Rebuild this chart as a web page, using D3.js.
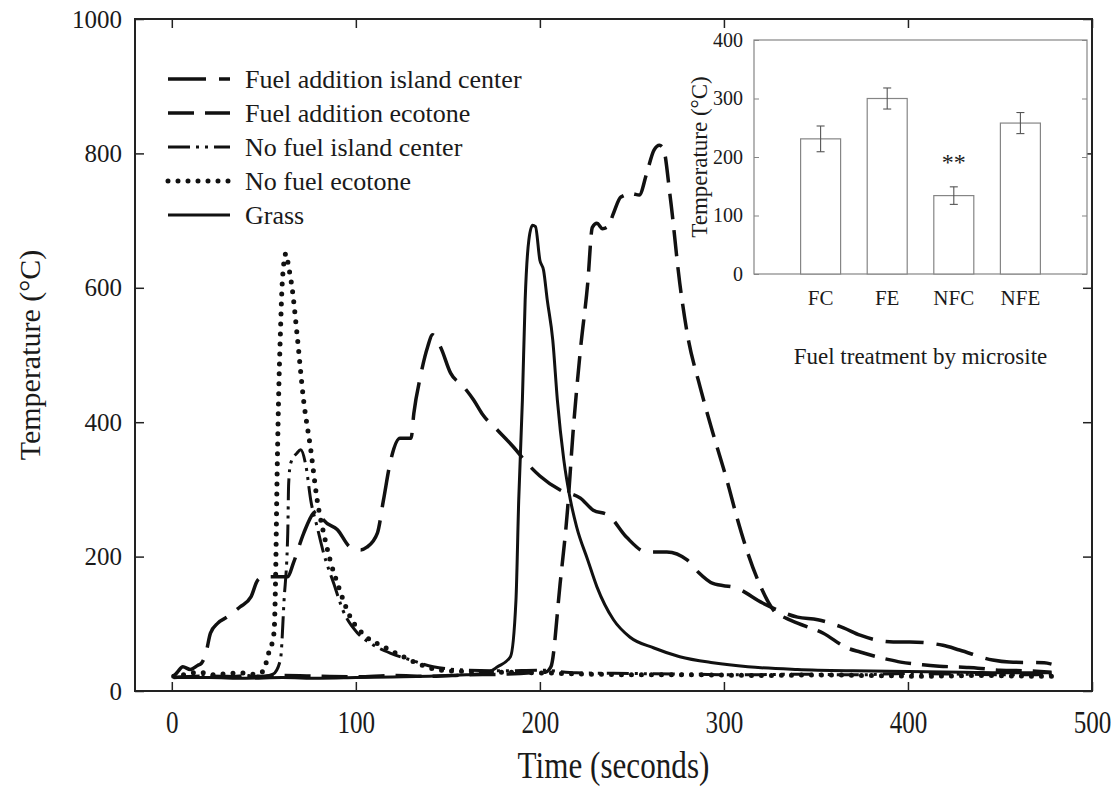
<!DOCTYPE html>
<html>
<head>
<meta charset="utf-8">
<script src="https://cdn.jsdelivr.net/npm/d3@7"></script>
<style>
  body { margin: 0; background: #fff; }
  text { font-family: "Liberation Serif", "Times New Roman", serif; fill: #1a1a1a; }
</style>
</head>
<body>
<div id="wrapper"></div>
<script>
// main chart: temperature vs time per series
const islandTime = [1,3,6,10,14,16,18.5,21,25,30,37,43,46.7,50,55.5,63,66,71.7,77,80,82.6,90,97,102.6,106,111.7,115,119,124,130,131.5,135,139,141.7,146,151.5,158.5,164,169,177,186,193,200,211,222,229,237,247,258,269,280,286,294,307,321,340,351,365,374,392,401,419,428,446,455,474,478];
const islandTemp = [22,28,36,32,38,41,56,86,101,110,125,140,165,170,170,170,190,235,265,269,254,240,214,210,214,235,284,344,376,376,413,467,512,530,512,473,453,433,411,388,362,339,320,299,287,269,262,229,207,207,195,177,160,153,131,110,106,94,83,73,73,68,61,46,43,42,40];

const ecotoneTime = [1,20,40,60,80,100,120,140,160,180,195,203,206,211,215,218,222,226,228.5,231,234,237,240,244,250,254,258,262,265,267,271,276,280,287,294,302,307,313,320,327,334,340,354,367,374,389,396,408,417,432,438,450,465,478];
const ecotoneTemp = [20,22,21,23,22,21,23,22,24,25,27,28,36,160,269,384,507,607,690,696,688,691,711,735,740,738,770,805,812,808,731,607,533,453,384,310,259,205,155,120,108,101,86,64,58,47,43,39,37,35,34,31,30,28];

const noFuelIslandTime = [1,10,20,30,40,50,55,59,61,63,63.5,64.6,68,70,73,75.5,79,82.5,88,93,101,108,119,130,142,161,180,200,220,250,280,310,340,370,400,430,460,478];
const noFuelIslandTemp = [20,21,22,21,23,22,25,46,135,235,309,339,354,359,333,284,244,205,160,120,86,71,56,46,36,31,30,31,27,26,25,24,25,24,26,25,24,25];

const noFuelEcotoneTime = [1,8,15,22,30,38,45,50,52,55.5,56.5,57,58,59,60,62,63.5,65.5,68,71.6,75.5,79,82.5,86,90,97,106,115,125,133.5,146,160,180,200,230,260,290,320,350,380,410,440,470,478];
const noFuelEcotoneTemp = [22,25,28,24,26,27,25,30,51,86,185,284,433,532,607,651,631,597,532,433,359,284,235,195,160,110,80,66,52,41,31,29,28,27,25,24,24,23,24,23,22,23,22,22];

const grassTime = [1,20,40,60,80,100,120,140,160,170,177,184,187,188.5,190.5,192,194,196,197.6,200,202,204,207,209.5,213,216.6,220,226,231,240,249,262,276,294,313,340,370,400,430,460,478];
const grassTemp = [20,20,19,20,19,20,21,22,24,26,36,51,135,284,433,582,671,693,691,641,626,582,522,433,344,284,244,195,155,106,80,64,51,42,36,32,30,29,28,27,27];

const seriesNames = ["Fuel addition island center", "Fuel addition ecotone", "No fuel island center", "No fuel ecotone", "Grass"];
const xTicks = [0, 100, 200, 300, 400, 500];
const yTicks = [0, 200, 400, 600, 800, 1000];

// inset bar chart
const insetCategories = ["FC", "FE", "NFC", "NFE"];
const insetMeans = [231, 300, 134, 258];
const insetErrors = [22, 18, 15, 18];
const insetTicks = [0, 100, 200, 300, 400];
const insetStars = ["", "", "**", ""];

function drawChart() {
	const dimensions = {
		width: 1116,
		height: 795,
		margin: { top: 19, right: 24, bottom: 104, left: 135 }
	};
	dimensions.boundedWidth = dimensions.width - dimensions.margin.left - dimensions.margin.right;
	dimensions.boundedHeight = dimensions.height - dimensions.margin.top - dimensions.margin.bottom;

	const svg = d3.select("#wrapper").append("svg")
		.attr("width", dimensions.width)
		.attr("height", dimensions.height);

	svg.append("rect").attr("width", dimensions.width).attr("height", dimensions.height).attr("fill", "#fff");

	const bounds = svg.append("g")
		.attr("transform", `translate(${dimensions.margin.left},${dimensions.margin.top})`);

	const xScale = d3.scaleLinear().domain([-20, 500]).range([0, dimensions.boundedWidth]);
	const yScale = d3.scaleLinear().domain([0, 1000]).range([dimensions.boundedHeight, 0]);

	// axes, ticks pointing inward on all four sides
	const xAxis = bounds.append("g")
		.attr("transform", `translate(0,${dimensions.boundedHeight})`)
		.call(d3.axisBottom(xScale).tickValues(xTicks).tickFormat(d3.format("d")).tickSizeInner(-9).tickSizeOuter(0).tickPadding(20));
	xAxis.selectAll("text").attr("font-size", 31).attr("transform", "scale(0.81,1)");

	bounds.append("g")
		.call(d3.axisTop(xScale).tickValues(xTicks).tickSizeInner(-9).tickSizeOuter(0).tickFormat(""));

	const yAxis = bounds.append("g")
		.call(d3.axisLeft(yScale).tickValues(yTicks).tickFormat(d3.format("d")).tickSizeInner(-9).tickSizeOuter(0).tickPadding(13));
	yAxis.selectAll("text").attr("font-size", 25);

	bounds.append("g")
		.attr("transform", `translate(${dimensions.boundedWidth},0)`)
		.call(d3.axisRight(yScale).tickValues(yTicks).tickSizeInner(-9).tickSizeOuter(0).tickFormat(""));

	bounds.selectAll(".domain").remove();
	bounds.selectAll(".tick line").attr("stroke", "#222").attr("stroke-width", 1.5);

	bounds.append("rect")
		.attr("width", dimensions.boundedWidth)
		.attr("height", dimensions.boundedHeight)
		.attr("fill", "none")
		.attr("stroke", "#222")
		.attr("stroke-width", 2);

	// axis titles
	svg.append("text")
		.attr("x", dimensions.margin.left + dimensions.boundedWidth / 2)
		.attr("y", 778)
		.attr("text-anchor", "middle")
		.attr("font-size", 38)
		.attr("transform", `translate(${(dimensions.margin.left + dimensions.boundedWidth / 2) * 0.18},0) scale(0.82,1)`)
		.text("Time (seconds)");

	svg.append("text")
		.attr("transform", `translate(40,${dimensions.margin.top + dimensions.boundedHeight / 2}) rotate(-90)`)
		.attr("text-anchor", "middle")
		.attr("font-size", 30)
		.text("Temperature (°C)");

	// lines
	const styles = [
		{ dash: "38,13", width: 3.5, cap: "butt" },
		{ dash: "26,11", width: 3.5, cap: "butt" },
		{ dash: "22,6,3,6,3,6", width: 3, cap: "butt" },
		{ dash: "0,10", width: 5, cap: "round" },
		{ dash: null, width: 3, cap: "butt" }
	];
	const seriesData = [
		d3.zip(islandTime, islandTemp),
		d3.zip(ecotoneTime, ecotoneTemp),
		d3.zip(noFuelIslandTime, noFuelIslandTemp),
		d3.zip(noFuelEcotoneTime, noFuelEcotoneTemp),
		d3.zip(grassTime, grassTemp)
	];

	const lineGenerator = d3.line()
		.x(d => xScale(d[0]))
		.y(d => yScale(d[1]))
		.curve(d3.curveMonotoneX);

	seriesData.forEach((data, i) => {
		bounds.append("path")
			.attr("d", lineGenerator(data))
			.attr("fill", "none")
			.attr("stroke", "#111")
			.attr("stroke-width", styles[i].width)
			.attr("stroke-linecap", styles[i].cap)
			.attr("stroke-linejoin", "round")
			.attr("stroke-dasharray", styles[i].dash);
	});

	// legend
	const legend = svg.append("g").attr("transform", "translate(168,79)");
	seriesNames.forEach((name, i) => {
		const row = legend.append("g").attr("transform", `translate(0,${i * 34})`);
		row.append("line")
			.attr("x1", 0).attr("x2", 62)
			.attr("stroke", "#111")
			.attr("stroke-width", styles[i].width)
			.attr("stroke-linecap", styles[i].cap)
			.attr("stroke-dasharray", styles[i].dash);
		row.append("text")
			.attr("x", 77)
			.attr("dy", "0.33em")
			.attr("font-size", 26)
			.text(name);
	});

	// inset
	const inset = { left: 754, right: 1087, top: 40, bottom: 274 };
	const xIn = d3.scalePoint().domain(insetCategories).range([inset.left, inset.right]).padding(1);
	const yIn = d3.scaleLinear().domain([0, 400]).range([inset.bottom, inset.top]);
	const barWidth = 40;
	const grey = "#858585";

	svg.append("rect")
		.attr("x", inset.left).attr("y", inset.top)
		.attr("width", inset.right - inset.left).attr("height", inset.bottom - inset.top)
		.attr("fill", "#fff").attr("stroke", grey).attr("stroke-width", 1.2);

	const inLeft = svg.append("g")
		.attr("transform", `translate(${inset.left},0)`)
		.call(d3.axisLeft(yIn).tickValues(insetTicks).tickSizeInner(-5).tickSizeOuter(0).tickPadding(11));
	inLeft.selectAll("text").attr("font-size", 20);
	const inRight = svg.append("g")
		.attr("transform", `translate(${inset.right},0)`)
		.call(d3.axisRight(yIn).tickValues(insetTicks).tickSizeInner(-5).tickSizeOuter(0).tickFormat(""));
	[inLeft, inRight].forEach(g => {
		g.select(".domain").remove();
		g.selectAll(".tick line").attr("stroke", grey);
	});

	svg.selectAll(".bar")
		.data(insetCategories)
		.join("rect")
		.attr("class", "bar")
		.attr("x", d => xIn(d) - barWidth / 2)
		.attr("y", (d, i) => yIn(insetMeans[i]))
		.attr("width", barWidth)
		.attr("height", (d, i) => yIn(0) - yIn(insetMeans[i]))
		.attr("fill", "#fff")
		.attr("stroke", grey)
		.attr("stroke-width", 1.2);

	const errs = svg.append("g").attr("stroke", "#555").attr("stroke-width", 1.1);
	insetCategories.forEach((c, i) => {
		const cx = xIn(c);
		const lo = yIn(insetMeans[i] - insetErrors[i]);
		const hi = yIn(insetMeans[i] + insetErrors[i]);
		errs.append("line").attr("x1", cx).attr("x2", cx).attr("y1", lo).attr("y2", hi);
		errs.append("line").attr("x1", cx - 4).attr("x2", cx + 4).attr("y1", lo).attr("y2", lo);
		errs.append("line").attr("x1", cx - 4).attr("x2", cx + 4).attr("y1", hi).attr("y2", hi);
		if (insetStars[i]) {
			svg.append("text")
				.attr("x", cx)
				.attr("y", hi - 17)
				.attr("text-anchor", "middle")
				.attr("font-size", 24)
				.text(insetStars[i]);
		}
	});

	svg.selectAll(".cat")
		.data(insetCategories)
		.join("text")
		.attr("class", "cat")
		.attr("x", d => xIn(d))
		.attr("y", 305)
		.attr("text-anchor", "middle")
		.attr("font-size", 21)
		.text(d => d);

	svg.append("text")
		.attr("x", (inset.left + inset.right) / 2)
		.attr("y", 364)
		.attr("text-anchor", "middle")
		.attr("font-size", 23)
		.text("Fuel treatment by microsite");

	svg.append("text")
		.attr("transform", `translate(707,${(inset.top + inset.bottom) / 2}) rotate(-90)`)
		.attr("text-anchor", "middle")
		.attr("font-size", 23)
		.text("Temperature (°C)");
}

drawChart();
</script>
</body>
</html>
